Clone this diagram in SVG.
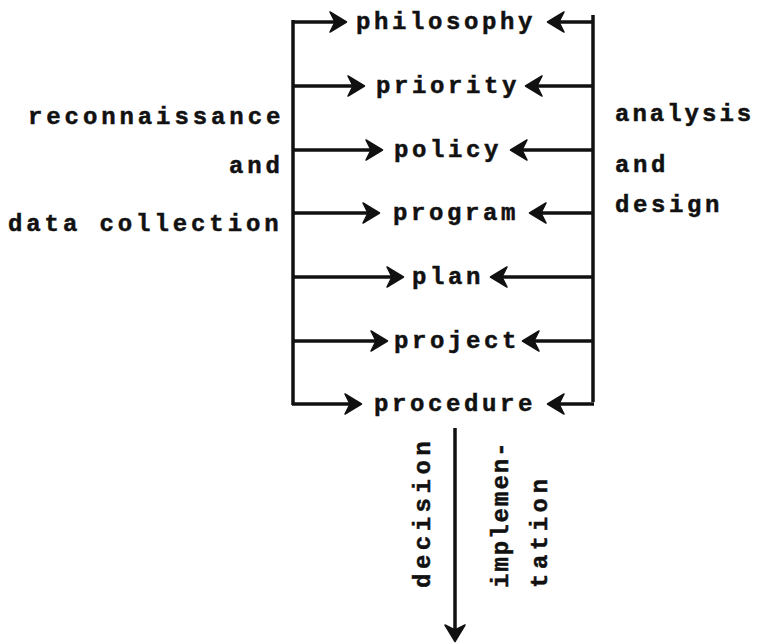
<svg xmlns="http://www.w3.org/2000/svg" width="757" height="643" viewBox="0 0 757 643">
<style>
text{font-family:"Liberation Mono","DejaVu Sans Mono",monospace;font-weight:bold;font-size:24px;letter-spacing:3.6px;fill:#111;stroke:#111;stroke-width:0.5}
.l{letter-spacing:3.9px}
.ln{stroke:#111;stroke-width:3.5;fill:none}
.ar{stroke:#111;stroke-width:3.5;fill:none;marker-end:url(#ah)}
</style>
<defs>
<marker id="ah" markerUnits="userSpaceOnUse" markerWidth="24" markerHeight="24" viewBox="-18 -12 20 24" refX="0" refY="0" orient="auto">
<path d="M1.5,0 L-15,-10 L-10,0 L-15,10 Z" fill="#111" stroke="#111" stroke-width="1.5" stroke-linejoin="round"/>
</marker>
</defs>
<rect width="757" height="643" fill="#fff"/>
<g id="connectors">
<path class="ln" d="M293,20 V405"/>
<path class="ln" d="M593,15 V402"/>
<path class="ar" d="M292,22 H345"/>
<path class="ar" d="M293,86 H363"/>
<path class="ar" d="M293,150 H381"/>
<path class="ar" d="M293,213 H378"/>
<path class="ar" d="M293,277 H402"/>
<path class="ar" d="M293,341 H386"/>
<path class="ar" d="M292,404 H360"/>
<path class="ar" d="M594,22 H549"/>
<path class="ar" d="M593,86 H527"/>
<path class="ar" d="M593,150 H512"/>
<path class="ar" d="M593,213 H531"/>
<path class="ar" d="M593,277 H492"/>
<path class="ar" d="M593,341 H524"/>
<path class="ar" d="M594,404 H549"/>
<path class="ar" stroke-width="4" d="M455,428 V640"/>
</g>
<g id="philosophy"><text x="356" y="29">philosophy</text></g>
<g id="priority"><text x="376" y="93">priority</text></g>
<g id="policy"><text x="394" y="157">policy</text></g>
<g id="program"><text x="393" y="220">program</text></g>
<g id="plan"><text x="412" y="284">plan</text></g>
<g id="project"><text x="394" y="348">project</text></g>
<g id="procedure"><text x="374" y="411">procedure</text></g>
<g id="left-label">
<text class="l" x="28" y="124">reconnaissance</text>
<text class="l" x="229" y="173">and</text>
<text class="l" x="8" y="231">data collection</text>
</g>
<g id="right-label">
<text x="615" y="121" style="letter-spacing:3px">analysis</text>
<text x="615" y="172">and</text>
<text x="615" y="212">design</text>
</g>
<g id="decision-label"><text transform="translate(430,588) rotate(-90)" style="letter-spacing:4.5px">decision</text></g>
<g id="implementation-label">
<text transform="translate(508,588) rotate(-90)" style="letter-spacing:2px">implemen-</text>
<text transform="translate(547,588) rotate(-90)" style="letter-spacing:4.5px">tation</text>
</g>
</svg>
